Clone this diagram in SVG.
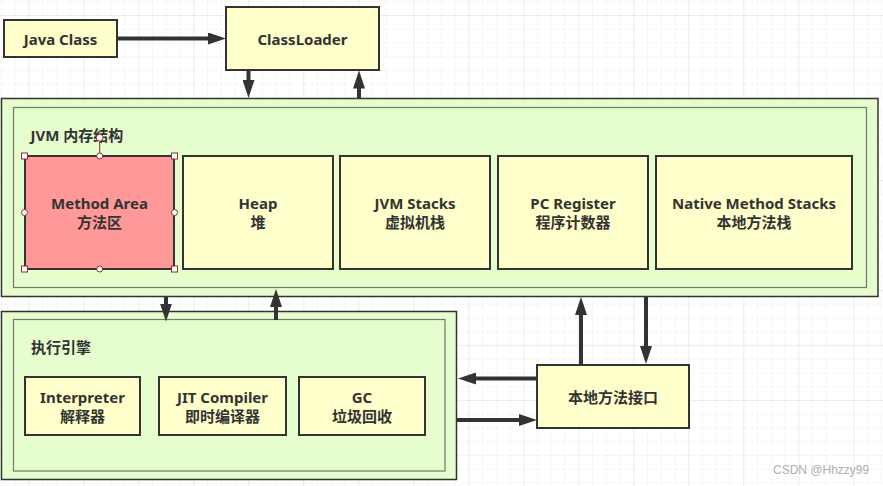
<svg xmlns="http://www.w3.org/2000/svg" width="883" height="486" viewBox="0 0 883 486">
<defs>
  <pattern id="minor" x="0.8" y="1.25" width="13.75" height="13.75" patternUnits="userSpaceOnUse">
    <path d="M0,0 H13.75 M0,0 V13.75" stroke="#f0f0f0" stroke-width="1" fill="none"/>
  </pattern>
  <pattern id="major" x="28.3" y="15" width="55" height="55" patternUnits="userSpaceOnUse">
    <path d="M0,0 H55 M0,0 V55" stroke="#e2e2e2" stroke-width="1" fill="none"/>
  </pattern>
  <marker id="ah" viewBox="0 0 18 12" refX="1" refY="6" markerWidth="18" markerHeight="12" markerUnits="userSpaceOnUse" orient="auto">
    <path d="M0,0 L18,6 L0,12 z" fill="#333"/>
  </marker>
</defs>
<style>
  .box { fill: #ffffcc; stroke: #333; stroke-width: 2; }
  .outer { fill: #e6fdcd; stroke: #333; stroke-width: 1.5; }
  .inner { fill: #e6fdcd; stroke: #6f7a68; stroke-width: 1.2; }
  .t { font-family: "Noto Sans", "Noto Sans CJK SC", sans-serif; font-weight: bold; font-size: 15px; fill: #333; text-anchor: middle; }
  .title { font-family: "Noto Sans", "Noto Sans CJK SC", sans-serif; font-weight: bold; font-size: 15px; fill: #333; }
  .conn { stroke: #333; stroke-width: 4; fill: none; marker-end: url(#ah); }
  .hs { fill: #fff; stroke: #8b2e2e; stroke-width: 1; }
</style>
<rect width="883" height="486" fill="#fff"/>
<rect width="883" height="486" fill="url(#minor)"/>
<rect width="883" height="486" fill="url(#major)"/>

<g id="java-class">
  <rect class="box" x="4" y="20" width="113" height="37"/>
  <text class="t" x="60.5" y="44.5">Java Class</text>
</g>
<g id="classloader">
  <rect class="box" x="226" y="7" width="153" height="63"/>
  <text class="t" x="302.5" y="45">ClassLoader</text>
</g>

<g id="jvm-memory">
  <rect class="outer" x="1.5" y="98.5" width="876.5" height="198"/>
  <rect class="inner" x="13.5" y="107.5" width="853" height="180"/>
  <text class="title" x="30.5" y="141">JVM 内存结构</text>
</g>
<g id="method-area">
  <rect x="25" y="156" width="149" height="113" fill="#ff9999" stroke="#333" stroke-width="2"/>
  <text class="t" x="99.5" y="209">Method Area</text>
  <text class="t" x="99.5" y="228">方法区</text>
  <line x1="99.7" y1="156" x2="99.7" y2="138" stroke="#8b2e2e" stroke-width="1"/>
  <circle class="hs" cx="99.7" cy="137.7" r="3.5"/>
  <rect class="hs" x="21.5" y="153" width="6" height="6"/>
  <rect class="hs" x="171.5" y="153" width="6" height="6"/>
  <rect class="hs" x="21.5" y="266" width="6" height="6"/>
  <rect class="hs" x="171.5" y="266" width="6" height="6"/>
  <circle class="hs" cx="99.7" cy="156" r="3"/>
  <circle class="hs" cx="99.7" cy="269" r="3"/>
  <circle class="hs" cx="24.5" cy="212.5" r="3"/>
  <circle class="hs" cx="174.5" cy="212.5" r="3"/>
</g>
<g id="heap">
  <rect class="box" x="183" y="156" width="150" height="113"/>
  <text class="t" x="258" y="209">Heap</text>
  <text class="t" x="258" y="228">堆</text>
</g>
<g id="jvm-stacks">
  <rect class="box" x="340" y="156" width="150" height="113"/>
  <text class="t" x="415" y="209">JVM Stacks</text>
  <text class="t" x="415" y="228">虚拟机栈</text>
</g>
<g id="pc-register">
  <rect class="box" x="498" y="156" width="150" height="113"/>
  <text class="t" x="573" y="209">PC Register</text>
  <text class="t" x="573" y="228">程序计数器</text>
</g>
<g id="native-method-stacks">
  <rect class="box" x="656" y="156" width="196" height="113"/>
  <text class="t" x="754" y="209">Native Method Stacks</text>
  <text class="t" x="754" y="228">本地方法栈</text>
</g>

<g id="exec-engine">
  <rect class="outer" x="1.5" y="311.5" width="455" height="168"/>
  <rect class="inner" x="13.5" y="319.5" width="431.5" height="151.5"/>
  <text class="title" x="31" y="353">执行引擎</text>
</g>
<g id="interpreter">
  <rect class="box" x="25" y="377" width="115" height="58"/>
  <text class="t" x="82.5" y="403">Interpreter</text>
  <text class="t" x="82.5" y="421.5">解释器</text>
</g>
<g id="jit-compiler">
  <rect class="box" x="159" y="377" width="127" height="58"/>
  <text class="t" x="222.5" y="403">JIT Compiler</text>
  <text class="t" x="222.5" y="421.5">即时编译器</text>
</g>
<g id="gc">
  <rect class="box" x="299" y="377" width="126" height="58"/>
  <text class="t" x="362" y="403">GC</text>
  <text class="t" x="362" y="421.5">垃圾回收</text>
</g>
<g id="native-interface">
  <rect class="box" x="537" y="365" width="152" height="63"/>
  <text class="t" x="613" y="403">本地方法接口</text>
</g>

<g id="connectors">
  <line class="conn" x1="117" y1="38.5" x2="209" y2="38.5"/>
  <line class="conn" x1="248.5" y1="70" x2="248.5" y2="81"/>
  <line class="conn" x1="359" y1="98" x2="359" y2="87.5"/>
  <line class="conn" x1="166" y1="297" x2="166" y2="304.5"/>
  <line class="conn" x1="276" y1="320" x2="276" y2="306"/>
  <line class="conn" x1="581" y1="365" x2="581" y2="314"/>
  <line class="conn" x1="646" y1="297" x2="646" y2="347"/>
  <line class="conn" x1="537" y1="378.5" x2="475" y2="378.5"/>
  <line class="conn" x1="457" y1="420" x2="520" y2="420"/>
</g>

<text x="773" y="474" font-family="Liberation Sans, Arial, sans-serif" font-size="12" fill="#b0b0b0">CSDN @Hhzzy99</text>
</svg>
